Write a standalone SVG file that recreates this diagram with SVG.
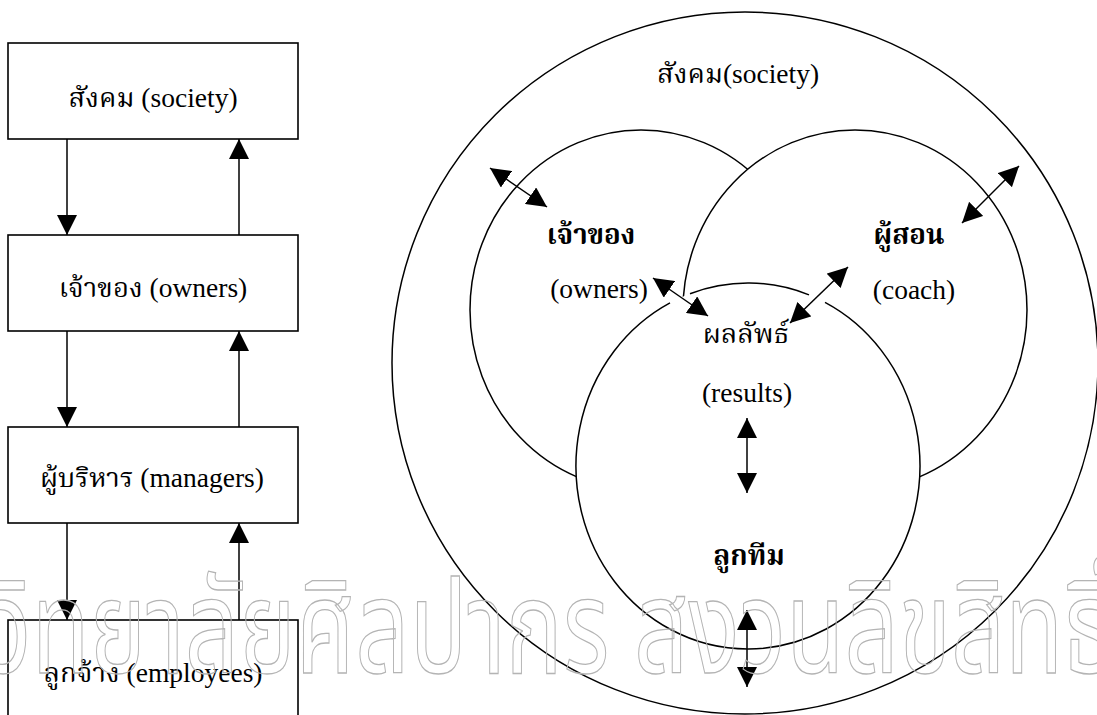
<svg xmlns="http://www.w3.org/2000/svg" width="1097" height="715" viewBox="0 0 1097 715">
<style>
.box{fill:#fff;stroke:#000;stroke-width:1.6}
.ln{fill:none;stroke:#000;stroke-width:1.5}
.circ{fill:#fff;stroke:#000;stroke-width:1.5}
.t{font-family:"Liberation Serif","Noto Serif Thai","Noto Sans Thai","Times New Roman",serif;font-size:27.5px;fill:#000;text-anchor:middle}
.b{font-weight:bold}
.wm{font-family:"Noto Sans Thai","Noto Serif Thai","Liberation Sans",sans-serif;font-size:130px;fill:none;stroke:#b4b4b4;stroke-width:1.3}
</style>
<defs>
<marker id="ah" viewBox="0 0 20 20" refX="20" refY="10" markerWidth="20" markerHeight="20" markerUnits="userSpaceOnUse" orient="auto-start-reverse">
<path d="M0,0 L20,10 L0,20 z" fill="#000"/>
</marker>
</defs>
<rect width="1097" height="715" fill="#fff"/>

<g id="society-box"><rect class="box" x="8" y="43" width="290" height="96"/><text class="t" x="153" y="107">สังคม (society)</text></g>
<g id="owners-box"><rect class="box" x="8" y="235" width="290" height="96"/><text class="t" x="153" y="297">เจ้าของ (owners)</text></g>
<g id="managers-box"><rect class="box" x="8" y="427" width="290" height="96"/><text class="t" x="152" y="487">ผู้บริหาร (managers)</text></g>
<g id="employees-box"><rect class="box" x="8" y="620" width="290" height="110"/><text class="t" x="153" y="682">ลูกจ้าง (employees)</text></g>

<g id="society-circle"><ellipse class="circ" cx="745" cy="363" rx="353" ry="351"/><text class="t" x="738" y="83">สังคม(society)</text></g>
<g id="owners-circle"><ellipse class="circ" cx="641" cy="310" rx="171" ry="180"/></g>
<g id="coach-circle"><ellipse class="circ" cx="855" cy="310" rx="172" ry="180"/></g>
<g id="results-circle">
<ellipse cx="748" cy="466" rx="172" ry="183" fill="#fff"/>
<path class="ln" d="M690,293.7 A172,183 0 0 1 809,294.9"/>
<path class="ln" d="M825,302.4 A172,183 0 1 1 670,302.9"/>
</g>
<g id="owners-label"><text class="t b" x="591" y="244">เจ้าของ</text><text class="t" x="599" y="298">(owners)</text></g>
<g id="coach-label"><text class="t b" x="909" y="244">ผู้สอน</text><text class="t" x="914" y="299">(coach)</text></g>
<g id="results-label"><text class="t" x="746" y="343">ผลลัพธ์</text><text class="t" x="747" y="402">(results)</text></g>
<g id="team-label"><text class="t b" x="749" y="565">ลูกทีม</text></g>

<g id="connectors">
<line class="ln" x1="67" y1="139" x2="67" y2="235" marker-end="url(#ah)"/>
<line class="ln" x1="239" y1="235" x2="239" y2="139" marker-end="url(#ah)"/>
<line class="ln" x1="67" y1="331" x2="67" y2="427" marker-end="url(#ah)"/>
<line class="ln" x1="239" y1="427" x2="239" y2="331" marker-end="url(#ah)"/>
<line class="ln" x1="67" y1="523" x2="67" y2="620" marker-end="url(#ah)"/>
<line class="ln" x1="239" y1="620" x2="239" y2="523" marker-end="url(#ah)"/>
<line class="ln" x1="490" y1="168" x2="547" y2="207" marker-start="url(#ah)" marker-end="url(#ah)"/>
<line class="ln" x1="1019" y1="166" x2="962" y2="223" marker-start="url(#ah)" marker-end="url(#ah)"/>
<line class="ln" x1="653" y1="278" x2="708" y2="316" marker-start="url(#ah)" marker-end="url(#ah)"/>
<line class="ln" x1="848" y1="267" x2="790" y2="323" marker-start="url(#ah)" marker-end="url(#ah)"/>
<line class="ln" x1="747" y1="418" x2="747" y2="493" marker-start="url(#ah)" marker-end="url(#ah)"/>
<line class="ln" x1="747" y1="610" x2="747" y2="687" marker-start="url(#ah)" marker-end="url(#ah)"/>
</g>

<text class="wm" x="-15" y="673" textLength="1130" lengthAdjust="spacingAndGlyphs">วิทยาลัยศิลปากร สงวนลิขสิทธิ์</text>
</svg>
